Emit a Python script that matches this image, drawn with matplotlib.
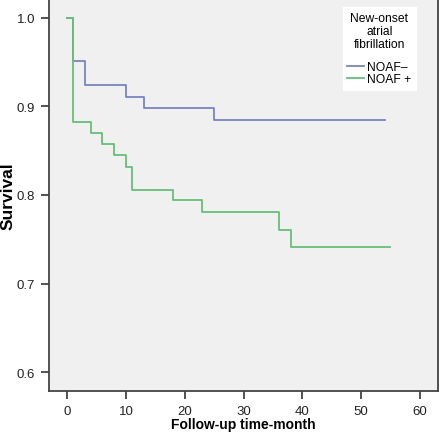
import matplotlib
matplotlib.use("Agg")
import matplotlib.pyplot as plt
from matplotlib.ticker import FormatStrFormatter

plt.rcParams['font.family'] = ['Liberation Sans', 'DejaVu Sans']

# Kaplan-Meier step data
neg_t = [0, 1, 3, 10, 13, 25, 54]
neg_s = [1.0, 0.951, 0.924, 0.911, 0.898, 0.885, 0.885]
pos_t = [0, 1, 4, 6, 8, 10, 11, 18, 23, 36, 38, 55]
pos_s = [1.0, 0.883, 0.870, 0.858, 0.845, 0.832, 0.806, 0.794, 0.781, 0.761, 0.741, 0.741]

fig = plt.figure(figsize=(4.41, 4.35), dpi=100)
fig.patch.set_facecolor('white')
ax = fig.add_axes([49/441, 43/435, 389/441, 392/435])
ax.set_facecolor('#f0f0f0')

ax.step(neg_t, neg_s, where='post', color='#7884c0', lw=1.3, label='NOAF\u2013')
ax.step(pos_t, pos_s, where='post', color='#66bf78', lw=1.3, label='NOAF +')

ax.set_xlim(-3.1, 63.1)
ax.set_ylim(0.5786, 1.0214)
ax.set_xticks([0, 10, 20, 30, 40, 50, 60])
ax.set_yticks([0.6, 0.7, 0.8, 0.9, 1.0])
ax.yaxis.set_major_formatter(FormatStrFormatter('%.1f'))
ax.tick_params(labelsize=9.5, length=6, width=1.2, color='#333333', labelcolor='#222222', pad=4)

for sp in ax.spines.values():
    sp.set_color('#444444')
    sp.set_linewidth(1.3)

ax.set_xlabel('Follow-up time-month', fontsize=10, fontweight='bold', va='top')
ax.xaxis.set_label_coords(0.499, -0.066)
ax.set_ylabel('Survival', fontsize=12.5, fontweight='bold')
ax.yaxis.set_label_coords(-0.087, 0.5)

leg = ax.legend(title='New-onset\natrial\nfibrillation', loc='upper right',
                bbox_to_anchor=(0.943, 0.98), fontsize=8.7, title_fontsize=8.7,
                frameon=True, fancybox=False, handlelength=1.35, handletextpad=0.25,
                borderpad=0.4, labelspacing=0.0, borderaxespad=0)
leg.get_frame().set_facecolor('white')
leg.get_frame().set_edgecolor('white')
leg.get_frame().set_alpha(1)
leg.get_title().set_multialignment('center')
leg.get_title().set_linespacing(1.15)
leg._legend_box.sep = 8  # gap between title and entries

fig.savefig('out.png', dpi=100)
